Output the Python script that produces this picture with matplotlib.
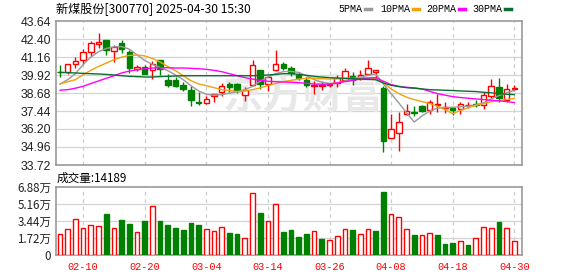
import numpy as np
import pandas as pd

import matplotlib
matplotlib.use("Agg")
import matplotlib.pyplot as plt
from matplotlib.lines import Line2D

CJK = ["Noto Sans CJK SC", "DejaVu Sans"]
RED = "#ff0000"
GREEN = "#008000"

# trading days shown: 2025-02-05 .. 2025-04-30, 04-04 was a holiday
trade_days = pd.bdate_range("2025-02-05", "2025-04-30")
trade_days = trade_days[trade_days != pd.Timestamp("2025-04-04")]
dates = [d.strftime("%m-%d") for d in trade_days]
tick_dates = ["02-10", "02-20", "03-04", "03-14", "03-26", "04-08", "04-18", "04-30"]

open_ = [40.14, 40.12, 40.67, 40.97, 41.49, 42.04, 42.34, 41.54, 42.11, 41.47,
         40.33, 40.49, 40.28, 40.97, 39.60, 39.55, 39.21, 38.87, 38.04, 38.00,
         38.46, 38.78, 39.30, 39.32, 38.53, 39.26, 40.28, 39.33, 40.26, 40.70,
         40.40, 39.94, 39.60, 39.14, 39.18, 39.20, 39.37, 39.60, 39.87, 39.71,
         40.01, 40.10, 39.05, 35.60, 35.90, 37.21, 37.38, 37.78, 37.51, 37.85,
         37.63, 37.67, 37.58, 37.83, 37.90, 37.85, 38.47, 39.09, 38.20, 38.95]
high = [40.62, 40.70, 41.15, 41.70, 42.27, 42.84, 42.34, 42.00, 42.36, 41.61,
        40.63, 40.63, 40.90, 40.97, 40.01, 39.78, 39.42, 39.19, 38.73, 38.50,
        38.60, 39.37, 39.44, 39.37, 39.07, 40.97, 40.28, 39.87, 41.65, 40.83,
        40.51, 40.10, 39.78, 39.49, 39.49, 39.37, 39.94, 40.40, 40.10, 40.24,
        40.97, 40.28, 39.15, 37.20, 37.35, 37.92, 37.78, 37.85, 38.20, 38.61,
        38.04, 37.70, 38.04, 38.04, 38.20, 38.77, 39.62, 39.69, 39.28, 39.23]
low = [39.78, 40.01, 40.40, 40.69, 41.20, 41.77, 41.31, 40.79, 41.43, 40.06,
       40.22, 40.01, 39.65, 39.94, 39.10, 39.10, 38.80, 37.77, 37.86, 37.95,
       38.05, 38.50, 38.75, 38.69, 38.12, 39.19, 38.96, 38.80, 40.22, 40.24,
       39.87, 39.60, 39.10, 38.64, 38.87, 39.10, 39.10, 39.49, 39.26, 39.60,
       39.94, 39.71, 34.60, 35.55, 34.70, 37.16, 37.12, 37.35, 37.21, 37.35,
       37.28, 37.16, 37.21, 37.65, 37.74, 37.58, 38.36, 38.08, 38.04, 38.84]
close = [40.10, 40.67, 40.90, 41.47, 42.13, 42.20, 41.61, 41.86, 41.72, 40.40,
         40.47, 40.01, 40.67, 40.33, 39.26, 39.14, 38.98, 38.18, 38.00, 38.28,
         38.58, 39.19, 39.07, 38.80, 38.87, 40.60, 39.33, 39.76, 40.67, 40.40,
         40.06, 39.71, 39.22, 39.26, 39.22, 39.27, 39.71, 40.17, 39.60, 39.94,
         40.40, 40.24, 35.40, 36.20, 36.70, 37.44, 37.32, 37.44, 38.04, 37.92,
         37.70, 37.49, 37.94, 37.86, 37.88, 38.54, 39.16, 38.36, 38.93, 39.05]
prev_close = 39.98  # close of the day before the first bar

ma5 = [39.30, 39.60, 40.01, 40.63, 41.15, 41.52, 41.75, 41.86, 41.88, 41.70,
       41.31, 40.92, 40.65, 40.44, 40.22, 39.92, 39.60, 39.19, 38.82, 38.59,
       38.53, 38.57, 38.66, 38.75, 38.91, 39.14, 39.49, 39.78, 40.01, 40.15,
       40.17, 40.10, 39.87, 39.60, 39.42, 39.33, 39.37, 39.51, 39.64, 39.78,
       39.90, 39.99, 39.30, 38.64, 38.00, 37.32, 36.68, 37.09, 37.43, 37.64,
       37.68, 37.70, 37.73, 37.77, 37.86, 38.00, 38.27, 38.50, 38.69, 38.87]
ma10 = [39.30, 39.46, 39.60, 39.94, 40.24, 40.51, 40.74, 40.97, 41.15, 41.27,
        41.29, 41.24, 41.06, 40.81, 40.51, 40.22, 39.87, 39.53, 39.30, 39.19,
        39.05, 38.91, 38.85, 38.78, 38.82, 38.91, 39.03, 39.19, 39.33, 39.46,
        39.55, 39.64, 39.69, 39.69, 39.67, 39.64, 39.67, 39.69, 39.69, 39.71,
        39.71, 39.69, 39.37, 38.96, 38.64, 38.39, 38.23, 38.09, 37.96, 37.77,
        37.54, 37.25, 37.48, 37.66, 37.82, 37.96, 38.07, 38.16, 38.23, 38.30]
ma20 = [38.87, 38.91, 39.01, 39.14, 39.33, 39.51, 39.69, 39.87, 40.06, 40.19,
        40.28, 40.35, 40.40, 40.42, 40.42, 40.40, 40.40, 40.38, 40.35, 40.31,
        40.24, 40.15, 40.01, 39.87, 39.74, 39.64, 39.55, 39.49, 39.46, 39.44,
        39.42, 39.39, 39.35, 39.30, 39.28, 39.30, 39.37, 39.46, 39.55, 39.64,
        39.71, 39.74, 39.49, 39.26, 39.14, 39.07, 39.03, 38.96, 38.80, 38.64,
        38.53, 38.43, 38.37, 38.32, 38.27, 38.23, 38.18, 38.14, 38.09, 38.02]
ma30 = [40.10, 40.08, 40.06, 40.03, 40.01, 39.99, 39.96, 39.92, 39.87, 39.83,
        39.81, 39.78, 39.78, 39.81, 39.83, 39.85, 39.87, 39.87, 39.87, 39.87,
        39.87, 39.87, 39.87, 39.87, 39.87, 39.87, 39.90, 39.92, 39.96, 40.01,
        40.01, 39.96, 39.90, 39.83, 39.78, 39.74, 39.71, 39.69, 39.67, 39.64,
        39.62, 39.60, 39.37, 39.21, 39.12, 39.05, 39.01, 38.96, 38.91, 38.89,
        38.87, 38.85, 38.82, 38.80, 38.78, 38.73, 38.69, 38.64, 38.59, 38.57]

# volume in units of 10k (万)
volume = [2.09, 2.62, 3.68, 2.78, 3.08, 2.98, 4.11, 2.78, 3.51, 3.11,
          2.32, 3.41, 4.97, 3.41, 3.01, 2.72, 2.52, 3.21, 3.01, 2.68,
          2.42, 2.88, 2.22, 2.12, 1.69, 6.26, 4.21, 3.48, 5.17, 2.32,
          2.52, 1.82, 2.12, 2.42, 1.62, 1.52, 1.92, 2.68, 2.52, 2.09,
          2.62, 2.42, 6.39, 4.17, 3.87, 2.68, 1.99, 1.99, 2.28, 1.99,
          1.13, 1.19, 1.39, 0.99, 1.69, 2.88, 2.78, 3.31, 2.78, 1.39]

price_ticks = [33.72, 34.96, 36.20, 37.44, 38.68, 39.92, 41.16, 42.40, 43.64]
vol_ticks = [0, 1.72, 3.44, 5.16, 6.88]
vol_labels = ["0", "1.72万", "3.44万", "5.16万", "6.88万"]

ma_names = ["5PMA", "10PMA", "20PMA", "30PMA"]
ma_colors = ["#9a9a9a", "#f0a30a", "#ff00ff", "#0a6e32"]

o = np.array(open_)
c = np.array(close)
x = np.arange(len(dates))
candle_up = c >= o
vol_up = c >= np.concatenate([[prev_close], c[:-1]])

fig = plt.figure(figsize=(5.78, 2.76), dpi=100)
W, H = 578, 276
ax = fig.add_axes([56 / W, 1 - 165 / H, 466 / W, 144 / H])
axv = fig.add_axes([56 / W, 1 - 255.3 / H, 466 / W, 68.6 / H])

tick_idx = [dates.index(d) for d in tick_dates]

for a in (ax, axv):
    a.set_xlim(-0.52, 60.0)
    for s in a.spines.values():
        s.set_color("#999999")
        s.set_linewidth(1.2)
    for t in tick_idx:
        a.axvline(t, color="#cccccc", lw=0.9, ls=(0, (3, 3)), zorder=0)
    a.tick_params(length=0)

# price panel
ax.set_ylim(price_ticks[0], price_ticks[-1])
for yv in price_ticks[1:-1]:
    ax.axhline(yv, color="#d4d4d4", lw=0.9, zorder=0)
ax.set_yticks(price_ticks)
ax.set_yticklabels([f"{v:.2f}" for v in price_ticks], family="Liberation Sans",
                   fontsize=8.8, color="#222222")
ax.set_xticks([])

ax.text(0.53, 0.47, "东方财富", transform=ax.transAxes, family=CJK, fontsize=29,
        fontweight="bold", color="#e8e8e8", ha="center", va="center", zorder=0)

cols = np.where(candle_up, RED, GREEN)
faces = np.where(candle_up, "white", GREEN)
ax.vlines(x, low, high, colors=cols, lw=1, zorder=2)
ax.bar(x, np.maximum(np.abs(c - o), 0.04), bottom=np.minimum(o, c), width=0.72,
       color=faces, edgecolor=cols, lw=1, zorder=3)

for vals, col in zip([ma5, ma10, ma20, ma30], ma_colors):
    ax.plot(x, vals, color=col, lw=1, zorder=4)

# volume panel
axv.set_ylim(0, vol_ticks[-1])
for yv in vol_ticks[1:-1]:
    axv.axhline(yv, color="#d4d4d4", lw=0.9, zorder=0)
axv.set_yticks(vol_ticks)
axv.set_yticklabels(vol_labels, family=CJK, fontsize=8.3, color="#222222")
vcols = np.where(vol_up, RED, GREEN)
vfaces = np.where(vol_up, "white", GREEN)
axv.bar(x, volume, width=0.62, color=vfaces, edgecolor=vcols, lw=1, zorder=3)
axv.set_xticks(tick_idx)
axv.set_xticklabels(tick_dates, family="Liberation Mono", fontsize=7.4, color=RED)
axv.tick_params(axis="x", pad=5)

# header texts
fig.text(56 / W, 1 - 9 / H, "新煤股份[300770] 2025-04-30 15:30", family=CJK,
         fontsize=8.7, va="center", ha="left")
fig.text(57 / W, 1 - 178 / H, "成交量:14189", family=CJK, fontsize=8.4,
         va="center", ha="left")

legend_x = [338, 380, 426, 472]
for name, col, lx in zip(ma_names, ma_colors, legend_x):
    fig.text(lx / W, 1 - 9 / H, name, family="Liberation Mono", fontsize=7.2,
             va="center", ha="left")
    tw = 6 * len(name)
    fig.add_artist(Line2D([(lx + tw + 3) / W, (lx + tw + 9) / W], [1 - 9 / H] * 2,
                          transform=fig.transFigure, color=col, lw=2.5))

fig.savefig("out.png", dpi=100)
